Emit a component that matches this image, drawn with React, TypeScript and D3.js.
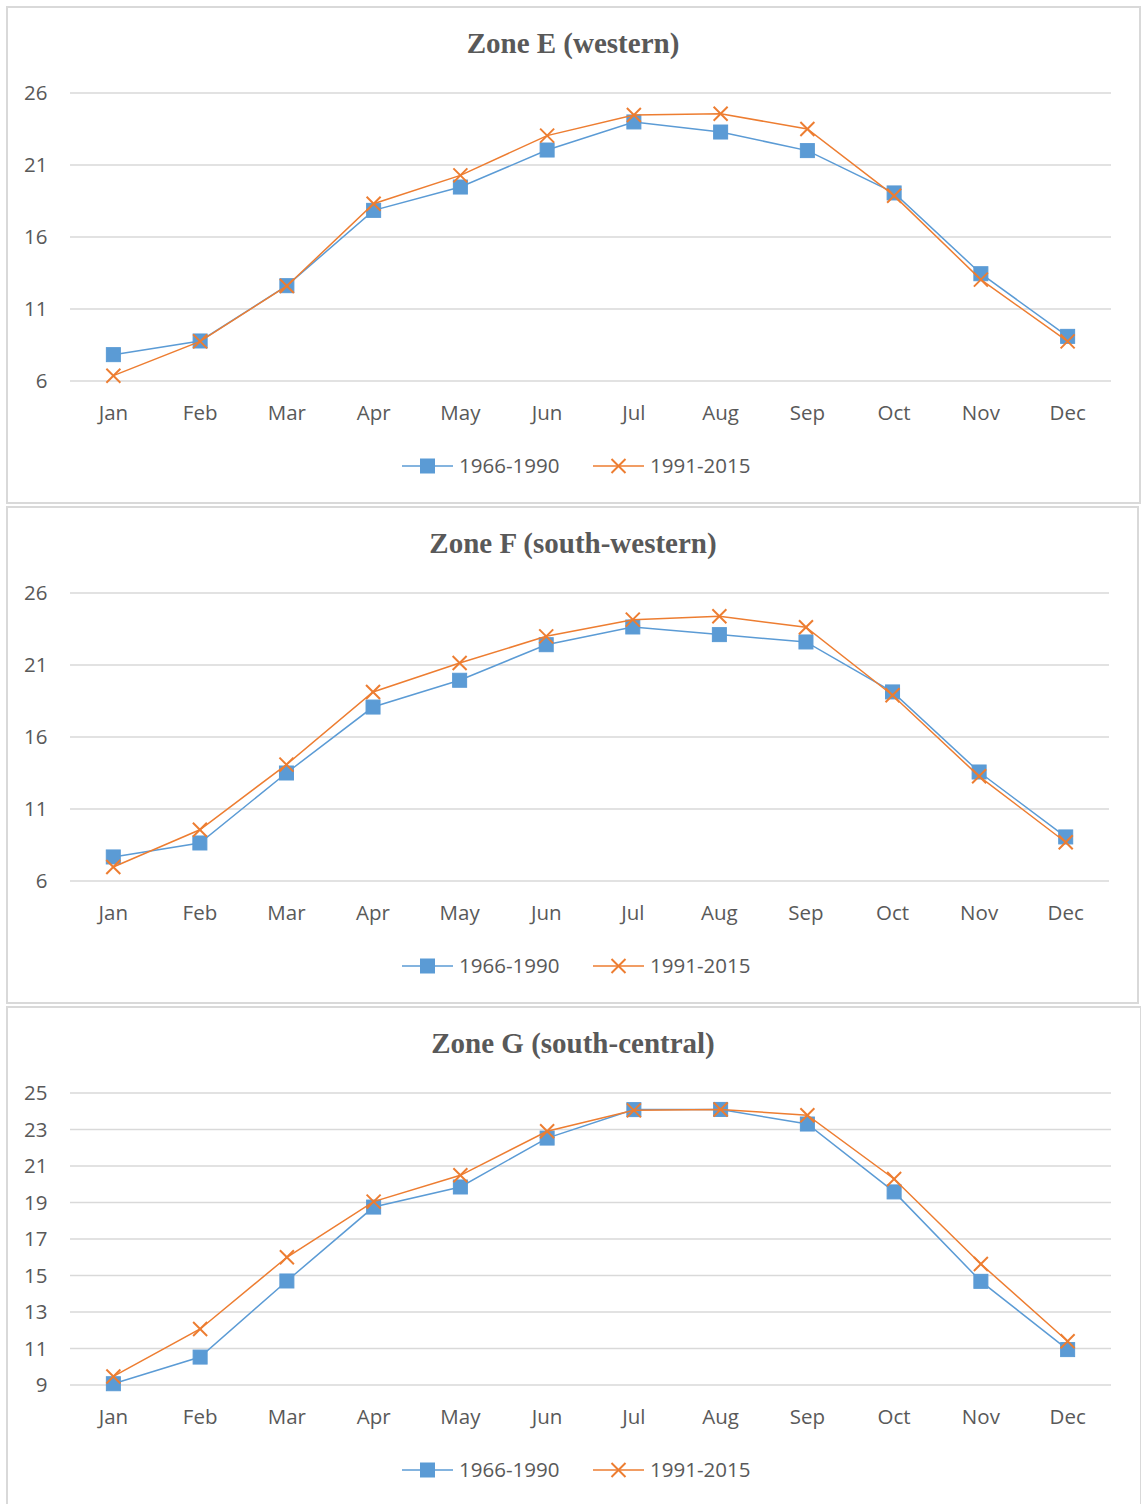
import React from "react";
import * as d3 from "d3";

// Monthly mean temperature (°C) by climate zone, two reference periods
const months = ["Jan", "Feb", "Mar", "Apr", "May", "Jun", "Jul", "Aug", "Sep", "Oct", "Nov", "Dec"];
const seriesNames = ["1966-1990", "1991-2015"];

const zoneEEarly = [7.83, 8.78, 12.62, 17.85, 19.47, 22.04, 23.99, 23.29, 22.0, 19.06, 13.45, 9.1];
const zoneELate = [6.37, 8.75, 12.6, 18.31, 20.28, 23.04, 24.47, 24.56, 23.5, 18.87, 13.04, 8.75];

const zoneFEarly = [7.67, 8.64, 13.5, 18.08, 19.94, 22.41, 23.64, 23.11, 22.6, 19.13, 13.57, 9.06];
const zoneFLate = [6.97, 9.56, 14.08, 19.13, 21.14, 22.99, 24.15, 24.38, 23.62, 18.9, 13.27, 8.69];

const zoneGEarly = [9.07, 10.53, 14.7, 18.75, 19.85, 22.53, 24.09, 24.1, 23.3, 19.58, 14.68, 10.94];
const zoneGLate = [9.47, 12.07, 16.0, 19.05, 20.49, 22.9, 24.05, 24.1, 23.78, 20.29, 15.63, 11.4];

const ticksEF = [6, 11, 16, 21, 26];
const ticksG = [9, 11, 13, 15, 17, 19, 21, 23, 25];

const BLUE = "#5B9BD5";
const ORANGE = "#ED7D31";
const TEXT = "#595959";
const GRID = "#D9D9D9";
const SANS = "'Open Sans', 'Liberation Sans', sans-serif";

type PanelProps = {
  title: string;
  top: number;
  height: number;
  right: number;
  plotRight: number;
  plotHeight: number;
  ticks: number[];
  early: number[];
  late: number[];
};

function Square({ x, y }: { x: number; y: number }) {
  const s = 14;
  return <rect x={x - s / 2} y={y - s / 2} width={s} height={s} fill={BLUE} stroke={BLUE} strokeWidth={1} />;
}

function Cross({ x, y }: { x: number; y: number }) {
  const h = 7;
  return (
    <g stroke={ORANGE} strokeWidth={2}>
      <line x1={x - h} y1={y - h} x2={x + h} y2={y + h} />
      <line x1={x - h} y1={y + h} x2={x + h} y2={y - h} />
    </g>
  );
}

function ZonePanel({ title, top, height, right, plotRight, plotHeight, ticks, early, late }: PanelProps) {
  const plotLeft = 70;
  const plotTop = top + 86;
  const plotBottom = plotTop + plotHeight;
  const x = d3.scaleBand<string>().domain(months).range([plotLeft, plotRight]);
  const y = d3
    .scaleLinear()
    .domain([ticks[0], ticks[ticks.length - 1]])
    .range([plotBottom, plotTop]);
  const cx = (m: string) => (x(m) as number) + x.bandwidth() / 2;
  const line = d3
    .line<number>()
    .x((_, i) => cx(months[i]))
    .y((v) => y(v));

  const legendY = plotBottom + 85;
  const lx1 = 402;
  const lx2 = 593;

  return (
    <g>
      <rect x={7} y={top} width={right - 7} height={height} fill="#fff" stroke={GRID} strokeWidth={2} />
      <text x={573} y={top + 46} textAnchor="middle" fontFamily="'Liberation Serif', 'Times New Roman', serif" fontWeight="bold" fontSize={29} fill={TEXT}>
        {title}
      </text>
      {ticks.map((t) => (
        <g key={t}>
          <line x1={plotLeft} x2={plotRight} y1={y(t)} y2={y(t)} stroke={GRID} strokeWidth={1.5} />
          <text x={47.5} y={y(t)} dy="0.36em" textAnchor="end" fontFamily={SANS} fontSize={20.5} fill={TEXT}>
            {t}
          </text>
        </g>
      ))}
      {months.map((m) => (
        <text key={m} x={cx(m)} y={plotBottom + 39} textAnchor="middle" fontFamily={SANS} fontSize={20.5} fill={TEXT}>
          {m}
        </text>
      ))}
      <path d={line(early) ?? ""} fill="none" stroke={BLUE} strokeWidth={1.5} />
      {early.map((v, i) => (
        <Square key={i} x={cx(months[i])} y={y(v)} />
      ))}
      <path d={line(late) ?? ""} fill="none" stroke={ORANGE} strokeWidth={1.5} />
      {late.map((v, i) => (
        <Cross key={i} x={cx(months[i])} y={y(v)} />
      ))}
      <g>
        <line x1={lx1} x2={lx1 + 51} y1={legendY} y2={legendY} stroke={BLUE} strokeWidth={1.5} />
        <Square x={lx1 + 25.5} y={legendY} />
        <text x={lx1 + 57} y={legendY} dy="0.36em" fontFamily={SANS} fontSize={20.5} fill={TEXT}>
          {seriesNames[0]}
        </text>
        <line x1={lx2} x2={lx2 + 51} y1={legendY} y2={legendY} stroke={ORANGE} strokeWidth={1.5} />
        <Cross x={lx2 + 25.5} y={legendY} />
        <text x={lx2 + 57} y={legendY} dy="0.36em" fontFamily={SANS} fontSize={20.5} fill={TEXT}>
          {seriesNames[1]}
        </text>
      </g>
    </g>
  );
}

export default function App() {
  return (
    <svg width={1141} height={1504} style={{ position: "absolute", left: 0, top: 0, background: "#fff" }}>
      <rect width={1141} height={1504} fill="#fff" />
      <ZonePanel title="Zone E (western)" top={7} height={496} right={1140} plotRight={1111} plotHeight={288} ticks={ticksEF} early={zoneEEarly} late={zoneELate} />
      <ZonePanel title="Zone F (south-western)" top={507} height={496} right={1138} plotRight={1109} plotHeight={288} ticks={ticksEF} early={zoneFEarly} late={zoneFLate} />
      <ZonePanel title="Zone G (south-central)" top={1007} height={510} right={1141} plotRight={1111} plotHeight={292} ticks={ticksG} early={zoneGEarly} late={zoneGLate} />
    </svg>
  );
}
